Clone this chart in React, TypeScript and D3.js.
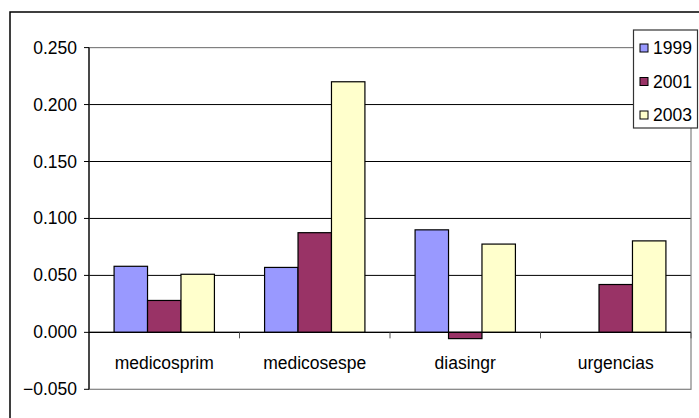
import React from "react";
import * as d3 from "d3";

const categories = ["medicosprim", "medicosespe", "diasingr", "urgencias"];
const seriesNames = ["1999", "2001", "2003"];
const values1999: (number | null)[] = [0.058, 0.057, 0.09, null];
const values2001: (number | null)[] = [0.028, 0.0875, -0.0055, 0.042];
const values2003: (number | null)[] = [0.051, 0.22, 0.0775, 0.0803];
const yTicks = [-0.05, 0, 0.05, 0.1, 0.15, 0.2, 0.25];
const seriesColors = ["#9999FF", "#993366", "#FFFFCC"];

const W = 699;
const H = 418;
const plot = { left: 89, right: 691, top: 47.6, bottom: 389.3 };
const FONT = "'Liberation Sans', Arial, sans-serif";

export default function App() {
  const seriesValues = [values1999, values2001, values2003];
  const x = d3.scaleBand<string>().domain(categories).range([plot.left, plot.right]).padding(0);
  const xInner = d3
    .scaleBand<string>()
    .domain(seriesNames)
    .range([0, x.bandwidth()])
    .paddingInner(0)
    .paddingOuter(0.75);
  const y = d3.scaleLinear().domain([-0.05, 0.25]).range([plot.bottom, plot.top]);
  const fmt = d3.format(".3f");
  const y0 = y(0);

  return (
    <svg
      width={W}
      height={H}
      style={{ position: "fixed", left: 0, top: 0, background: "#fff" }}
      fontFamily={FONT}
    >
      {/* chart frame */}
      <rect x={10} y={12} width={720} height={440} fill="#fff" stroke="#000" strokeWidth={1.5} />

      {/* gridlines */}
      {yTicks.map((t) =>
        t === -0.05 || t === 0.25 ? null : (
          <line key={t} x1={plot.left} x2={plot.right} y1={y(t)} y2={y(t)} stroke="#000" strokeWidth={1} />
        )
      )}

      {/* plot area border */}
      <rect
        x={plot.left}
        y={plot.top}
        width={plot.right - plot.left}
        height={plot.bottom - plot.top}
        fill="none"
        stroke="#808080"
        strokeWidth={1.2}
      />

      {/* bars */}
      {seriesValues.map((vals, si) =>
        vals.map((v, ci) => {
          if (v === null) return null;
          const bx = (x(categories[ci]) ?? 0) + (xInner(seriesNames[si]) ?? 0);
          const top = Math.min(y(v), y0);
          const h = Math.abs(y(v) - y0);
          return (
            <rect
              key={`${si}-${ci}`}
              x={bx}
              y={top}
              width={xInner.bandwidth()}
              height={h}
              fill={seriesColors[si]}
              stroke="#000"
              strokeWidth={1.2}
            />
          );
        })
      )}

      {/* value axis */}
      <line x1={plot.left} x2={plot.left} y1={plot.top} y2={plot.bottom} stroke="#000" strokeWidth={1.2} />
      {yTicks.map((t) => (
        <g key={t}>
          <line x1={plot.left - 5} x2={plot.left} y1={y(t)} y2={y(t)} stroke="#000" strokeWidth={1} />
          <text
            x={77}
            y={y(t)}
            textAnchor="end"
            dominantBaseline="central"
            fontSize={17.5}
            fill="#000"
          >
            {fmt(t)}
          </text>
        </g>
      ))}

      {/* category axis at zero */}
      <line x1={plot.left} x2={plot.right} y1={y0} y2={y0} stroke="#000" strokeWidth={1.2} />
      {categories.map((c, i) => {
        const bx = (x(c) ?? 0) + x.bandwidth();
        return (
          <g key={c}>
            {i < categories.length && (
              <line x1={bx} x2={bx} y1={y0} y2={y0 + 6} stroke="#555" strokeWidth={1} />
            )}
            <text
              x={(x(c) ?? 0) + x.bandwidth() / 2}
              y={362.5}
              textAnchor="middle"
              dominantBaseline="central"
              fontSize={17.5}
              fill="#000"
            >
              {c}
            </text>
          </g>
        );
      })}

      {/* legend */}
      <g>
        <rect x={633.5} y={30} width={64} height={98} fill="#fff" stroke="#333" strokeWidth={1.2} />
        {seriesNames.map((s, i) => {
          const cy = 48 + i * 33.5;
          return (
            <g key={s}>
              <rect x={640} y={cy - 4} width={8} height={8} fill={seriesColors[i]} stroke="#000" strokeWidth={1} />
              <text x={653} y={cy} dominantBaseline="central" fontSize={17.5} fill="#000">
                {s}
              </text>
            </g>
          );
        })}
      </g>
    </svg>
  );
}
